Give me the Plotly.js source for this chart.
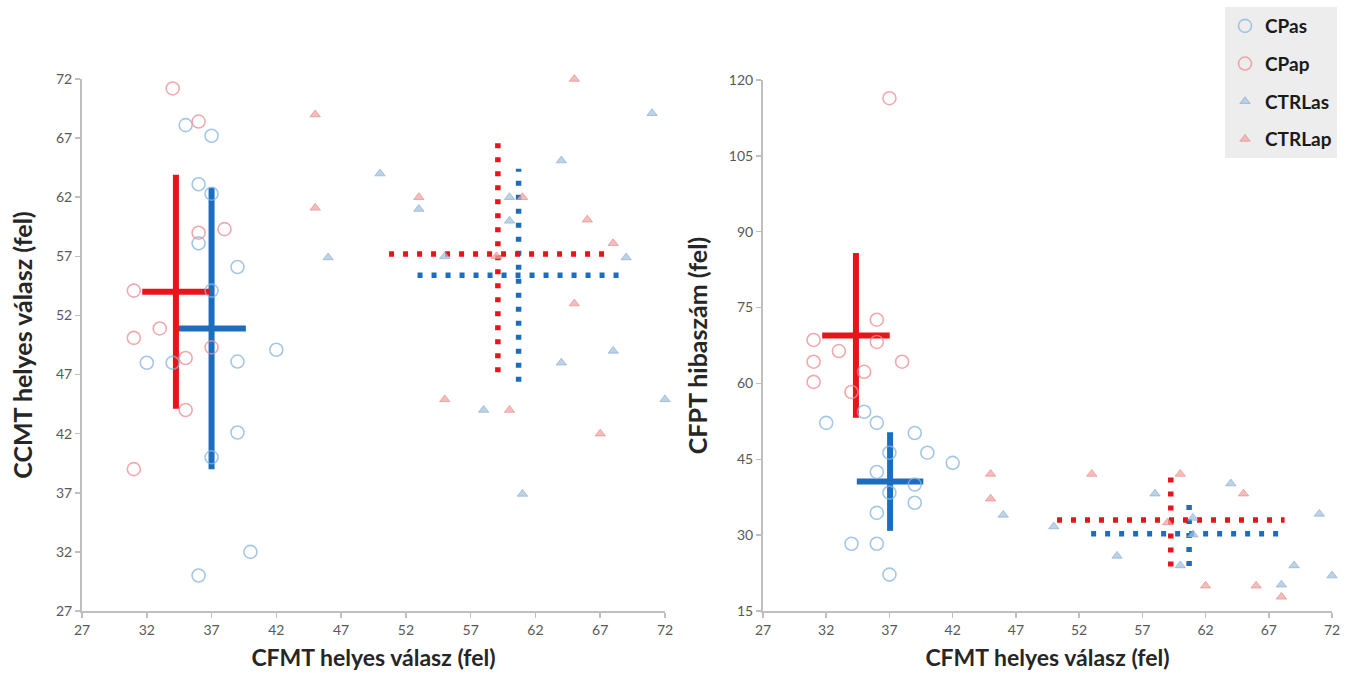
<!DOCTYPE html>
<html>
<head>
<meta charset="utf-8">
<script src="https://cdn.plot.ly/plotly-3.0.1.min.js"></script>
<style>
  html, body { margin: 0; padding: 0; background: #ffffff; }
  #chart { width: 1357px; height: 679px; }
</style>
</head>
<body>
<div id="chart"></div>
<script>
// ---------- group names ----------
const groupNames = ['CPas', 'CPap', 'CTRLas', 'CTRLap'];

// ---------- left panel: CFMT (x) vs CCMT (y) ----------
const cpasL_x = [35, 37, 36, 37, 36, 39, 37, 42, 32, 34, 39, 39, 37, 40, 36];
const cpasL_y = [68.1, 67.2, 63.1, 62.3, 58.1, 56.1, 54.1, 49.1, 48.0, 48.0, 48.1, 42.1, 40.0, 32.0, 30.0];
const cpapL_x = [34, 36, 36, 38, 31, 33, 31, 37, 35, 35, 31];
const cpapL_y = [71.2, 68.4, 59.0, 59.3, 54.1, 50.9, 50.1, 49.3, 48.4, 44.0, 39.0];
const ctrlasL_x = [46, 50, 53, 55, 60, 60, 64, 71, 69, 64, 68, 72, 58, 61];
const ctrlasL_y = [56.9, 64.0, 61.0, 57.0, 62.0, 60.0, 65.1, 69.1, 56.9, 48.0, 49.0, 44.9, 44.0, 36.9];
const ctrlapL_x = [45, 45, 65, 53, 61, 66, 68, 65, 55, 60, 67, 59];
const ctrlapL_y = [69.0, 61.1, 72.0, 62.0, 62.0, 60.1, 58.1, 53.0, 44.9, 44.0, 42.0, 57.0];

// group means and SDs (order: CPas, CPap, CTRLas, CTRLap)
const meanL_x = [37.0, 34.25, 60.7, 59.1];
const sdL_x   = [2.65, 2.6, 7.8, 8.4];
const meanL_y = [50.9, 54.0, 55.4, 57.2];
const sdL_y   = [11.9, 9.9, 9.0, 10.0];

// ---------- right panel: CFMT (x) vs CFPT (y) ----------
const cpasR_x = [32, 35, 36, 39, 40, 42, 37, 36, 39, 37, 39, 36, 34, 36, 37];
const cpasR_y = [52.2, 54.4, 52.2, 50.2, 46.3, 44.3, 46.3, 42.5, 40.0, 38.4, 36.4, 34.4, 28.3, 28.3, 22.2];
const cpapR_x = [37, 36, 31, 33, 36, 31, 38, 35, 31, 34];
const cpapR_y = [116.4, 72.6, 68.6, 66.4, 68.2, 64.3, 64.3, 62.3, 60.3, 58.3];
const ctrlasR_x = [46, 50, 55, 58, 64, 71, 69, 72, 68, 60, 61, 61];
const ctrlasR_y = [34.0, 31.7, 25.9, 38.2, 40.2, 34.2, 24.0, 22.0, 20.2, 24.0, 30.1, 33.4];
const ctrlapR_x = [45, 45, 53, 60, 65, 62, 66, 68, 59];
const ctrlapR_y = [42.1, 37.2, 42.1, 42.1, 38.2, 20.0, 20.0, 17.8, 32.5];

const meanR_x = [37.05, 34.35, 60.7, 59.25];
const sdR_x   = [2.63, 2.67, 7.75, 9.0];
const meanR_y = [40.6, 69.5, 30.3, 33.0];
const sdR_y   = [9.75, 16.3, 6.4, 9.2];

// ---------- axis ticks ----------
const xTicks = [27, 32, 37, 42, 47, 52, 57, 62, 67, 72];
const yTicksL = [27, 32, 37, 42, 47, 52, 57, 62, 67, 72];
const yTicksR = [15, 30, 45, 60, 75, 90, 105, 120];

// ---------- styles ----------
const crossColor = ['#1C6DBD', '#E8141C', '#1C6DBD', '#E8141C'];
const crossDash  = ['solid', 'solid', '5px,9px', '5px,9px'];
const crossWidth = [6, 6, 5.5, 5.5];
const markerStyle = [
  {symbol: 'circle-open', size: 13, color: 'rgba(135,180,222,0.75)', line: {width: 1.6}},
  {symbol: 'circle-open', size: 13, color: 'rgba(238,140,145,0.75)', line: {width: 1.6}},
  {symbol: 'triangle-up', size: 9, color: 'rgba(165,195,222,0.75)', line: {width: 0.8, color: 'rgba(135,170,205,0.8)'}},
  {symbol: 'triangle-up', size: 9, color: 'rgba(242,165,165,0.75)', line: {width: 0.8, color: 'rgba(228,135,135,0.8)'}}
];

const pointsL = [[cpasL_x, cpasL_y], [cpapL_x, cpapL_y], [ctrlasL_x, ctrlasL_y], [ctrlapL_x, ctrlapL_y]];
const pointsR = [[cpasR_x, cpasR_y], [cpapR_x, cpapR_y], [ctrlasR_x, ctrlasR_y], [ctrlapR_x, ctrlapR_y]];

const traces = [];

function addCrosses(mx, sx, my, sy, xa, ya) {
  for (let i = 0; i < groupNames.length; i++) {
    const line = {color: crossColor[i], width: crossWidth[i], dash: crossDash[i]};
    // horizontal arm (mean ± SD on x)
    traces.push({
      type: 'scatter', mode: 'lines', xaxis: xa, yaxis: ya,
      x: [mx[i] - sx[i], mx[i] + sx[i]], y: [my[i], my[i]],
      line: line, showlegend: false, hoverinfo: 'skip'
    });
    // vertical arm (mean ± SD on y)
    traces.push({
      type: 'scatter', mode: 'lines', xaxis: xa, yaxis: ya,
      x: [mx[i], mx[i]], y: [my[i] - sy[i], my[i] + sy[i]],
      line: line, showlegend: false, hoverinfo: 'skip'
    });
  }
}

function addPoints(pts, xa, ya, legend) {
  for (let i = 0; i < groupNames.length; i++) {
    traces.push({
      type: 'scatter', mode: 'markers', xaxis: xa, yaxis: ya,
      name: groupNames[i], legendgroup: groupNames[i],
      x: pts[i][0], y: pts[i][1], cliponaxis: false,
      marker: markerStyle[i], showlegend: legend
    });
  }
}

addCrosses(meanL_x, sdL_x, meanL_y, sdL_y, 'x', 'y');
addCrosses(meanR_x, sdR_x, meanR_y, sdR_y, 'x2', 'y2');
addPoints(pointsL, 'x', 'y', true);
addPoints(pointsR, 'x2', 'y2', false);

const tickFont = {family: 'Lato, "Open Sans", sans-serif', size: 14, color: '#595959'};
const xTitleFont = {family: 'Lato, "Open Sans", sans-serif', size: 23, color: '#262626', weight: 'bold'};
const yTitleFont = {family: 'Lato, "Open Sans", sans-serif', size: 25, color: '#262626', weight: 'bold'};

function axisBase(ticks, range) {
  return {
    range: range, tickmode: 'array', tickvals: ticks, ticktext: ticks.map(String),
    showgrid: false, zeroline: false, showline: true,
    linecolor: '#BFBFBF', linewidth: 2,
    ticks: 'outside', ticklen: 5, tickwidth: 1.5, tickcolor: '#BFBFBF',
    tickfont: tickFont, automargin: false, fixedrange: true
  };
}

const layout = {
  width: 1357, height: 679,
  margin: {l: 0, r: 0, t: 0, b: 0},
  paper_bgcolor: '#ffffff', plot_bgcolor: '#ffffff',
  font: {family: 'Lato, "Open Sans", sans-serif'},
  xaxis: Object.assign(axisBase(xTicks, [27, 72]), {
    domain: [82 / 1357, 665 / 1357], anchor: 'y',
    title: {text: 'CFMT helyes válasz (fel)', font: xTitleFont, standoff: 13}
  }),
  yaxis: Object.assign(axisBase(yTicksL, [27, 72]), {
    domain: [68 / 679, 600 / 679], anchor: 'x',
    title: {text: 'CCMT helyes válasz (fel)', font: yTitleFont, standoff: 16}
  }),
  xaxis2: Object.assign(axisBase(xTicks, [27, 72]), {
    domain: [763 / 1357, 1332 / 1357], anchor: 'y2',
    title: {text: 'CFMT helyes válasz (fel)', font: xTitleFont, standoff: 13}
  }),
  yaxis2: Object.assign(axisBase(yTicksR, [15, 120]), {
    domain: [68 / 679, 599 / 679], anchor: 'x2',
    title: {text: 'CFPT hibaszám (fel)', font: yTitleFont, standoff: 14}
  }),
  showlegend: true,
  legend: {
    x: 1225 / 1357, xanchor: 'left', y: 1 - 7 / 679, yanchor: 'top',
    bgcolor: '#EDEDED', borderwidth: 0,
    font: {family: 'Lato, "Open Sans", sans-serif', size: 19, color: '#1a1a1a', weight: 'bold'},
    tracegroupgap: 10, itemwidth: 30, entrywidth: 120,
    traceorder: 'grouped'
  }
};

Plotly.newPlot('chart', traces, layout, {displayModeBar: false, staticPlot: true});
</script>
</body>
</html>
